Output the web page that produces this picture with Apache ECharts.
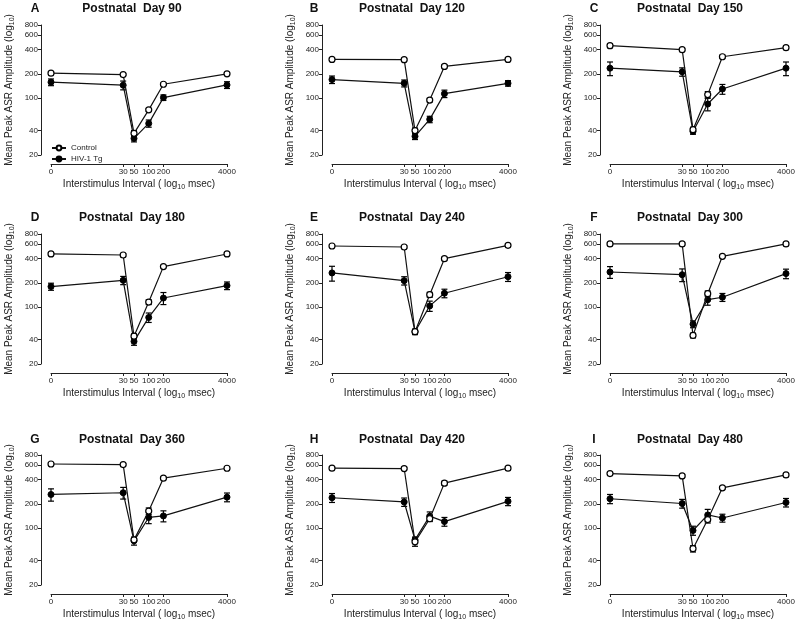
<!DOCTYPE html>
<html>
<head>
<meta charset="utf-8">
<script src="https://cdn.jsdelivr.net/npm/echarts@6/dist/echarts.min.js"></script>
<style>
  html, body { margin: 0; padding: 0; background: #fff; }
  #main { width: 800px; height: 625px; }
</style>
</head>
<body>
<div id="main"></div>
<script>
// interstimulus intervals (msec); "0" sits at 1 on the log axis
const isiLabels = [0, 30, 50, 100, 200, 4000];
const yTicks = [20, 40, 100, 200, 400, 600, 800];
const days = [90, 120, 150, 180, 240, 300, 360, 420, 480];
const letters = ['A', 'B', 'C', 'D', 'E', 'F', 'G', 'H', 'I'];

// mean peak ASR amplitude, one row per panel
const controlMean = [
  [204, 196, 37, 72, 149, 200],
  [301, 299, 40, 95, 247, 301],
  [445, 397, 41, 111, 325, 420],
  [454, 441, 44, 116, 317, 454],
  [569, 553, 50, 143, 397, 580],
  [603, 603, 45, 147, 425, 603],
  [620, 609, 72, 163, 414, 549],
  [550, 545, 68, 131, 360, 550],
  [472, 442, 56, 128, 315, 455]
];
const controlSem = [
  [5, 5, 3, 3, 5, 5],
  [8, 8, 3, 5, 10, 8],
  [25, 10, 3, 10, 15, 20],
  [15, 20, 3, 8, 10, 12],
  [20, 20, 3, 10, 15, 15],
  [15, 15, 3, 12, 10, 12],
  [20, 20, 4, 15, 12, 15],
  [15, 20, 8, 10, 20, 12],
  [12, 15, 5, 12, 12, 15]
];
const hivMean = [
  [158, 145, 32, 49, 102, 146],
  [170, 153, 34, 55, 114, 153],
  [235, 212, 39, 85, 130, 235],
  [180, 215, 38, 75, 130, 185],
  [265, 213, 50, 104, 149, 238],
  [272, 252, 62, 124, 133, 260],
  [261, 274, 70, 136, 142, 242],
  [238, 211, 72, 141, 121, 215],
  [231, 202, 94, 146, 134, 208]
];
const hivSem = [
  [15, 18, 3, 5, 8, 14],
  [18, 15, 3, 5, 12, 12],
  [45, 25, 3, 15, 18, 45],
  [18, 25, 4, 10, 22, 20],
  [55, 25, 4, 15, 18, 30],
  [45, 45, 6, 18, 15, 35],
  [45, 45, 8, 22, 22, 30],
  [30, 25, 6, 18, 15, 25],
  [30, 25, 12, 25, 15, 25]
];

const colLeft = [51, 332, 610];
const colWidth = 176;
const rowTop = [25, 234, 455];
const rowHeight = 130;
const titleY = [9, 218, 440];
const titleX = [132, 412, 690];
const letterX = [35, 314, 594];

const font = 'Liberation Sans, Arial, sans-serif';
const isiPos = isiLabels.map(v => (v === 0 ? 1 : v));

const myChart = echarts.init(document.getElementById('main'), null, { renderer: 'canvas' });

const grid = [], xAxis = [], yAxis = [], series = [], graphic = [];

// vertical SEM bars with caps
function errorSeries(name, idx, mean, sem, color) {
  return {
    name: name,
    type: 'custom',
    xAxisIndex: idx,
    yAxisIndex: idx,
    z: 1,
    silent: true,
    encode: { x: 0, y: [1, 2] },
    data: mean.map((m, i) => [isiPos[i], m - sem[i], m + sem[i]]),
    renderItem: function (params, api) {
      const x = api.value(0);
      const top = api.coord([x, api.value(2)]);
      const bot = api.coord([x, api.value(1)]);
      const w = 3;
      const st = { stroke: color, lineWidth: 1.2 };
      return {
        type: 'group',
        children: [
          { type: 'line', shape: { x1: top[0], y1: top[1], x2: bot[0], y2: bot[1] }, style: st },
          { type: 'line', shape: { x1: top[0] - w, y1: top[1], x2: top[0] + w, y2: top[1] }, style: st },
          { type: 'line', shape: { x1: bot[0] - w, y1: bot[1], x2: bot[0] + w, y2: bot[1] }, style: st }
        ]
      };
    }
  };
}

days.forEach((day, idx) => {
  const r = Math.floor(idx / 3), c = idx % 3;
  grid.push({ left: colLeft[c], top: rowTop[r], width: colWidth, height: rowHeight });
  xAxis.push({
    type: 'log',
    gridIndex: idx,
    min: 1,
    max: 4000,
    offset: 9,
    axisLine: { lineStyle: { color: '#222', width: 1 } },
    axisTick: { length: 3, customValues: isiPos, lineStyle: { color: '#222' } },
    minorTick: { show: false },
    splitLine: { show: false },
    axisLabel: {
      customValues: isiPos,
      fontSize: 8,
      margin: 4,
      color: '#222',
      fontFamily: font,
      formatter: v => (Math.round(v) === 1 ? '0' : String(Math.round(v)))
    },
    name: 'Interstimulus Interval ( log{sub|10} msec)',
    nameLocation: 'middle',
    nameGap: 14,
    nameTextStyle: {
      fontSize: 10, color: '#222', fontFamily: font,
      rich: { sub: { fontSize: 7, padding: [6, 0, 0, 0], fontFamily: font, color: '#222' } }
    }
  });
  yAxis.push({
    type: 'log',
    gridIndex: idx,
    min: 20,
    max: 800,
    offset: 10,
    axisLine: { show: true, lineStyle: { color: '#222', width: 1 } },
    axisTick: { show: true, length: 3, customValues: yTicks, lineStyle: { color: '#222' } },
    minorTick: { show: false },
    splitLine: { show: false },
    axisLabel: { customValues: yTicks, fontSize: 8, margin: 3, color: '#222', fontFamily: font },
    name: 'Mean Peak ASR Amplitude (log{sub|10})',
    nameLocation: 'middle',
    nameGap: 25,
    nameTextStyle: {
      fontSize: 10, color: '#222', fontFamily: font,
      rich: { sub: { fontSize: 7, padding: [6, 0, 0, 0], fontFamily: font, color: '#222' } }
    }
  });

  series.push(errorSeries('HIV-1 Tg SEM', idx, hivMean[idx], hivSem[idx], '#000'));
  series.push(errorSeries('Control SEM', idx, controlMean[idx], controlSem[idx], '#000'));
  series.push({
    name: 'HIV-1 Tg',
    type: 'line',
    xAxisIndex: idx,
    yAxisIndex: idx,
    z: 3,
    symbol: 'circle',
    symbolSize: 6,
    lineStyle: { color: '#111', width: 1.2 },
    itemStyle: { color: '#000', borderColor: '#000', borderWidth: 1 },
    data: hivMean[idx].map((v, i) => [isiPos[i], v])
  });
  series.push({
    name: 'Control',
    type: 'line',
    xAxisIndex: idx,
    yAxisIndex: idx,
    z: 4,
    symbol: 'circle',
    symbolSize: 6,
    lineStyle: { color: '#111', width: 1.2 },
    itemStyle: { color: '#fff', borderColor: '#000', borderWidth: 1.2 },
    data: controlMean[idx].map((v, i) => [isiPos[i], v])
  });

  graphic.push({
    type: 'text', x: letterX[c], y: titleY[r],
    style: { text: letters[idx], fontSize: 12, fontWeight: 'bold', fontFamily: font, fill: '#111', align: 'center', verticalAlign: 'middle' }
  });
  graphic.push({
    type: 'text', x: titleX[c], y: titleY[r],
    style: { text: 'Postnatal  Day ' + day, fontSize: 12, fontWeight: 'bold', fontFamily: font, fill: '#111', align: 'center', verticalAlign: 'middle' }
  });
});

const option = {
  backgroundColor: '#fff',
  animation: false,
  grid: grid,
  xAxis: xAxis,
  yAxis: yAxis,
  legend: {
    data: ['Control', 'HIV-1 Tg'],
    orient: 'vertical',
    left: 46,
    top: 139,
    itemWidth: 14,
    itemHeight: 6,
    itemGap: 3,
    textStyle: { fontSize: 8, color: '#222', fontFamily: font }
  },
  graphic: graphic,
  series: series
};
option && myChart.setOption(option);
</script>
</body>
</html>
